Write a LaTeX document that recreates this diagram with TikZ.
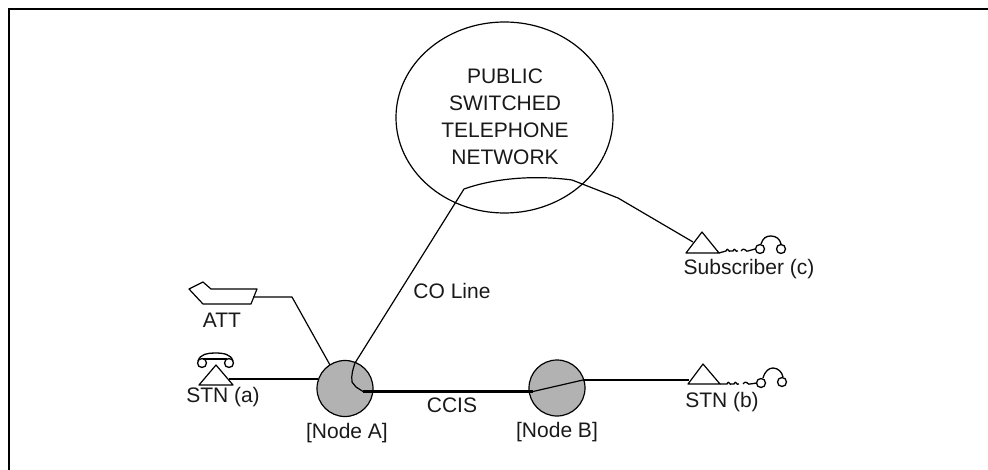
\documentclass[tikz,border=0pt]{standalone}
\usepackage{fontspec}
\setmainfont{Liberation Sans}
\usetikzlibrary{shapes.geometric}
\definecolor{nodegray}{gray}{0.7}
\tikzset{
  lbl/.style={inner sep=0pt,font=\fontsize{21}{27}\selectfont,align=center,text=black!90},
  switch/.style={circle,draw=black,line width=1.2pt,fill=nodegray,minimum size=56pt,inner sep=0pt},
  thin line/.style={line width=1.2pt,line join=round},
  wire/.style={line width=2.2pt},
  trunk/.style={line width=3.2pt},
  frameline/.style={line width=2.6pt},
  phone/.style={line width=1.3pt,line join=round},
  ear/.style={circle,draw=black,line width=1.3pt,minimum size=9pt,inner sep=0pt}
}
\begin{document}
\begin{tikzpicture}[x=1pt,y=-1pt]
\useasboundingbox (0,0) rectangle (988,470);
% frame
\draw[frameline] (988,9) -- (9,9) -- (9,470);
% cloud
\node[ellipse,draw=black,line width=1.2pt,minimum width=217pt,minimum height=191pt,inner sep=0pt] (pstn) at (504.5,117.5) {};
\node[lbl] (pstnlabel) at (505,117) {PUBLIC\\SWITCHED\\TELEPHONE\\NETWORK};
% switches
\node[switch] (nodeA) at (345,388.5) {};
\node[switch] (nodeB) at (557,388) {};
\coordinate (aIn) at (363,391.5);
\coordinate (bIn) at (533,391.5);
\coordinate (bOut) at (583,380);
\coordinate (aOut) at (318,379);
% trunk
\draw[trunk] (aIn) -- (bIn);
\draw[thin line] (bIn) -- (bOut);
% triangles
\coordinate (aTri) at (229,379);
\coordinate (bTri) at (689,380);
\coordinate (cTri) at (693,242);
\coordinate (attEnd) at (253,297);
\coordinate (attIn) at (330,365);
% CO line
\draw[thin line] (aIn) -- (356,387) -- (352,382) .. controls (351,375) and (353,369) .. (355,363)
  -- (464,189) .. controls (495,178) and (535,175) .. (572,180) -- (618,198) -- (cTri);
% ATT
\draw[thin line] (attEnd) -- (292,297) -- (attIn);
\draw[thin line] (189,289) -- (203,282) -- (211,289) -- (257,289) -- (251,304) -- (203,304) -- cycle;
\node[lbl] (attlabel) at (222,320) {ATT};
% STN a
\draw[wire] (aTri) -- (aOut);
\draw[thin line] (216,365) -- (199,385) -- (233,385) -- cycle;
\node[ear] (a1) at (202,363) {};
\node[ear] (a2) at (229,363) {};
\draw[wire] (203,359) -- (227,359);
\draw[phone] (198,361) .. controls (200,354) and (208,353) .. (215,353) .. controls (223,353) and (231,354) .. (233,361);
\node[lbl] (stna) at (223,397) {STN (a)};
\node[lbl] (nodeAl) at (347,433) {[Node A]};
\node[lbl] (coline) at (452,291) {CO Line};
\node[lbl] (ccis) at (452,405) {CCIS};
\node[lbl] (nodeBl) at (557,432) {[Node B]};
% STN b
\draw[wire] (bOut) -- (bTri);
\draw[thin line] (703,364) -- (688,384) -- (720,384) -- cycle;
\draw[phone] (720,384) -- (727,384) .. controls (729,379) and (729,386) .. (732,384) -- (734,384)
  .. controls (736,379) and (736,386) .. (739,384) (743,384) .. controls (747,379) and (748,386) .. (750,384) -- (757,383);
\node[ear] (b1) at (761,383) {};
\node[ear] (b2) at (782,382) {};
\draw[phone] (763,378) .. controls (765,371) and (769,368) .. (773,368) .. controls (778,368) and (782,372) .. (783,377);
\node[lbl] (stnb) at (722,402) {STN (b)};
% Subscriber c
\draw[thin line] (702,232) -- (686,253) -- (719,253) -- cycle;
\draw[phone] (719,253) -- (726,251) .. controls (728,246) and (728,253) .. (731,251) -- (733,251)
  .. controls (735,246) and (735,253) .. (738,251) (741,251) .. controls (745,246) and (746,253) .. (748,251) -- (755,249);
\node[ear] (c1) at (760,249) {};
\node[ear] (c2) at (781,249) {};
\draw[phone] (761,244) .. controls (763,238) and (766,236) .. (771,236) .. controls (776,236) and (780,239) .. (781,244);
\node[lbl] (subc) at (749,269) {Subscriber (c)};
\end{tikzpicture}
\end{document}
